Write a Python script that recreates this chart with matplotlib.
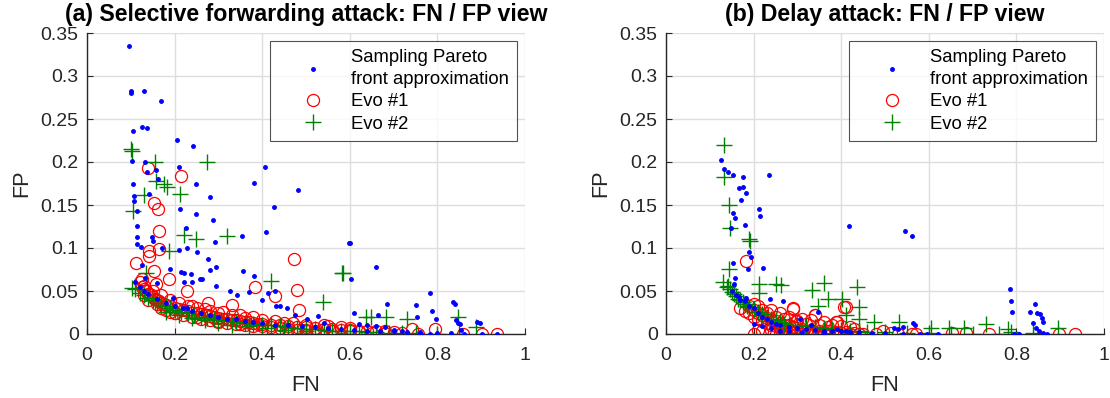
import matplotlib
matplotlib.use("Agg")
import matplotlib.pyplot as plt

plt.rcParams['font.family'] = ['Liberation Sans', 'DejaVu Sans']

# ---------------- (a) Selective forwarding attack ----------------
sf_pareto_fn = [0.097, 0.100, 0.101, 0.130, 0.170, 0.104, 0.125, 0.136, 0.205, 0.242,
                0.103, 0.132, 0.158, 0.210, 0.406, 0.137, 0.162, 0.105, 0.249, 0.381,
                0.482, 0.107, 0.108, 0.141, 0.281, 0.114, 0.212, 0.249, 0.428, 0.288,
                0.115, 0.225, 0.408, 0.114, 0.148, 0.151, 0.353, 0.292, 0.115, 0.123,
                0.171, 0.210, 0.228, 0.250, 0.599, 0.276, 0.126, 0.190, 0.280, 0.295,
                0.356, 0.215, 0.222, 0.238, 0.133, 0.159, 0.221, 0.239, 0.258, 0.263,
                0.295, 0.382, 0.327, 0.342, 0.371, 0.400, 0.413, 0.429, 0.431, 0.441,
                0.457, 0.474, 0.502, 0.527, 0.540, 0.197, 0.228,
                0.600, 0.659, 0.603, 0.782, 0.835, 0.840, 0.686, 0.750, 0.787, 0.610,
                0.664, 0.753, 0.797, 0.842, 0.846, 0.852, 0.891, 0.898, 0.854, 0.902,
                0.935, 0.783,
                0.110, 0.120, 0.130, 0.140, 0.160, 0.180, 0.200, 0.220, 0.240, 0.260,
                0.280, 0.300, 0.320, 0.340, 0.360, 0.380, 0.400, 0.430, 0.460, 0.490,
                0.520, 0.550, 0.580, 0.610, 0.640, 0.670, 0.700, 0.730, 0.760, 0.800,
                0.830, 0.860, 0.620, 0.640, 0.660, 0.680, 0.700, 0.720, 0.760]
sf_pareto_fp = [0.335, 0.282, 0.280, 0.282, 0.271, 0.236, 0.241, 0.239, 0.226, 0.219,
                0.2015, 0.200, 0.191, 0.1945, 0.194, 0.188, 0.180, 0.175, 0.175, 0.176,
                0.168, 0.161, 0.155, 0.1625, 0.159, 0.1425, 0.1455, 0.140, 0.148, 0.1325,
                0.1255, 0.123, 0.119, 0.113, 0.113, 0.1085, 0.1135, 0.1065, 0.1045, 0.1007,
                0.100, 0.098, 0.100, 0.095, 0.106, 0.087, 0.0805, 0.076, 0.075, 0.0775,
                0.0735, 0.0723, 0.0715, 0.0696, 0.065, 0.059, 0.0607, 0.060, 0.0645, 0.0645,
                0.056, 0.0677, 0.050, 0.0455, 0.049, 0.039, 0.0475, 0.0505, 0.033, 0.033,
                0.0307, 0.022, 0.018, 0.021, 0.013, 0.042, 0.0307,
                0.1058, 0.0774, 0.0634, 0.0478, 0.0373, 0.0346, 0.0346, 0.0334, 0.0268, 0.0241,
                0.0218, 0.0194, 0.0179, 0.0163, 0.0132, 0.0113, 0.014, 0.0125, 0.005, 0.000,
                0.000, 0.000,
                0.060, 0.055, 0.050, 0.046, 0.041, 0.036, 0.032, 0.030, 0.027, 0.024,
                0.022, 0.020, 0.018, 0.017, 0.015, 0.014, 0.013, 0.011, 0.010, 0.009,
                0.008, 0.007, 0.006, 0.005, 0.004, 0.003, 0.003, 0.002, 0.002, 0.001,
                0.001, 0.000, 0.012, 0.010, 0.009, 0.008, 0.005, 0.003, 0.000]

sf_evo1_fn = [0.139, 0.214, 0.154, 0.161, 0.164, 0.142, 0.142, 0.1645, 0.111, 0.154,
              0.188, 0.158, 0.125, 0.130, 0.228, 0.4726, 0.3836, 0.480, 0.430, 0.4847,
              0.331, 0.277, 0.741, 0.7945, 0.859, 0.901, 0.935, 0.756,
              0.120, 0.125, 0.130, 0.135, 0.140, 0.145, 0.150, 0.155, 0.160, 0.165,
              0.170, 0.175, 0.180, 0.190, 0.200, 0.210, 0.220, 0.230, 0.240, 0.250,
              0.260, 0.270, 0.280, 0.290, 0.300, 0.310, 0.320, 0.330, 0.340, 0.350,
              0.360, 0.370, 0.380, 0.390, 0.400, 0.420, 0.440, 0.460, 0.480, 0.500,
              0.520, 0.540, 0.560, 0.580, 0.600, 0.620, 0.640, 0.660, 0.680, 0.700,
              0.150, 0.170, 0.190, 0.210, 0.230, 0.250, 0.280, 0.300, 0.330, 0.360,
              0.400, 0.450, 0.500, 0.550, 0.600,
              0.200, 0.250, 0.300, 0.350, 0.400, 0.500, 0.600, 0.650, 0.540, 0.580,
              0.130, 0.140, 0.160, 0.170, 0.180, 0.190, 0.200, 0.220, 0.240, 0.260,
              0.280, 0.300, 0.320, 0.340, 0.360, 0.380, 0.420, 0.440, 0.460, 0.480,
              0.500, 0.520, 0.560, 0.620, 0.680, 0.720, 0.240, 0.270, 0.310, 0.350,
              0.380, 0.430, 0.470]
sf_evo1_fp = [0.193, 0.1835, 0.1525, 0.1455, 0.120, 0.097, 0.0907, 0.0985, 0.082, 0.0735,
              0.0645, 0.058, 0.0638, 0.056, 0.050, 0.0875, 0.0548, 0.0517, 0.044, 0.028,
              0.034, 0.0365, 0.006, 0.006, 0.000, 0.000, 0.000, 0.000,
              0.060, 0.055, 0.052, 0.050, 0.047, 0.045, 0.043, 0.041, 0.040, 0.038,
              0.036, 0.035, 0.034, 0.032, 0.030, 0.029, 0.028, 0.027, 0.025, 0.024,
              0.023, 0.022, 0.021, 0.020, 0.019, 0.018, 0.017, 0.016, 0.016, 0.015,
              0.014, 0.014, 0.013, 0.012, 0.012, 0.011, 0.010, 0.009, 0.008, 0.008,
              0.007, 0.006, 0.006, 0.005, 0.005, 0.004, 0.004, 0.003, 0.003, 0.002,
              0.050, 0.045, 0.040, 0.036, 0.033, 0.030, 0.027, 0.025, 0.022, 0.019,
              0.016, 0.013, 0.011, 0.009, 0.007,
              0.025, 0.020, 0.015, 0.012, 0.009, 0.005, 0.003, 0.001, 0.010, 0.008,
              0.045, 0.040, 0.035, 0.030, 0.028, 0.026, 0.024, 0.022, 0.020, 0.018,
              0.016, 0.014, 0.013, 0.012, 0.010, 0.009, 0.008, 0.007, 0.006, 0.005,
              0.004, 0.004, 0.003, 0.002, 0.001, 0.001, 0.032, 0.029, 0.026, 0.022,
              0.020, 0.015, 0.013]

sf_evo2_fn = [0.100, 0.102, 0.155, 0.273, 0.158, 0.176, 0.182, 0.212, 0.131, 0.1057,
              0.2215, 0.249, 0.319, 0.188, 0.1347, 0.102, 0.4194, 0.583, 0.5395,
              0.585, 0.637, 0.648, 0.682, 0.731, 0.847, 0.888,
              0.110, 0.120, 0.130, 0.140, 0.150, 0.160, 0.170, 0.180, 0.190, 0.200,
              0.215, 0.230, 0.245, 0.260, 0.275, 0.290, 0.305, 0.320, 0.340, 0.360,
              0.380, 0.400, 0.420, 0.440, 0.460, 0.480, 0.500, 0.520, 0.540, 0.560,
              0.580, 0.600, 0.620, 0.640, 0.660, 0.690, 0.720, 0.750, 0.800, 0.850,
              0.180, 0.210, 0.240, 0.270, 0.300, 0.330, 0.370, 0.410, 0.450, 0.500]
sf_evo2_fp = [0.215, 0.213, 0.200, 0.200, 0.1778, 0.174, 0.1715, 0.163, 0.162, 0.1435,
              0.115, 0.1105, 0.1144, 0.097, 0.0715, 0.0533, 0.0618, 0.0712, 0.0373,
              0.0708, 0.0194, 0.0194, 0.0194, 0.0171, 0.0194, 0.008,
              0.052, 0.048, 0.045, 0.042, 0.039, 0.036, 0.034, 0.032, 0.030, 0.028,
              0.026, 0.024, 0.022, 0.020, 0.019, 0.018, 0.016, 0.015, 0.014, 0.013,
              0.012, 0.011, 0.010, 0.009, 0.008, 0.007, 0.006, 0.006, 0.005, 0.004,
              0.004, 0.003, 0.003, 0.002, 0.002, 0.001, 0.001, 0.001, 0.000, 0.000,
              0.026, 0.022, 0.019, 0.016, 0.013, 0.011, 0.009, 0.007, 0.005, 0.004]

# ---------------- (b) Delay attack ----------------
dl_pareto_fn = [0.1263, 0.1324, 0.1415, 0.152, 0.175, 0.2343, 0.167, 0.1765, 0.1818, 0.172,
                0.2123, 0.2153, 0.1537, 0.1567, 0.1476, 0.1804, 0.190, 0.194, 0.152, 0.1864,
                0.2206, 0.158, 0.1545, 0.166, 0.1826, 0.2375,
                0.417, 0.545, 0.561, 0.786, 0.7877, 0.790, 0.8416, 0.832, 0.846, 0.8545,
                0.8584, 0.860, 0.839, 0.845, 0.8507, 0.860, 0.869, 0.268, 0.346, 0.307,
                0.563, 0.5685, 0.520, 0.530, 0.540, 0.795, 0.807, 0.597,
                0.150, 0.160, 0.170, 0.180, 0.190, 0.200, 0.210, 0.220, 0.230, 0.240,
                0.250, 0.260, 0.280, 0.300, 0.320, 0.340, 0.360, 0.380, 0.400, 0.420,
                0.440, 0.470, 0.500, 0.540, 0.580, 0.620,
                0.200, 0.220, 0.240, 0.260, 0.280, 0.310, 0.330, 0.360, 0.390, 0.410]
dl_pareto_fp = [0.2024, 0.192, 0.188, 0.1845, 0.1826, 0.1853, 0.1694, 0.1713, 0.1643, 0.1558,
                0.1457, 0.1375, 0.141, 0.1348, 0.1227, 0.1262, 0.0959, 0.089, 0.0831, 0.0758,
                0.0773, 0.0653, 0.0583, 0.0435, 0.0423, 0.0404,
                0.1255, 0.120, 0.1142, 0.052, 0.0385, 0.0256, 0.0346, 0.0256, 0.024, 0.023,
                0.0186, 0.0143, 0.0132, 0.0066, 0.004, 0.0008, 0.000, 0.0388, 0.0256, 0.0178,
                0.0132, 0.0108, 0.007, 0.006, 0.008, 0.000, 0.000, 0.000,
                0.050, 0.045, 0.040, 0.038, 0.033, 0.030, 0.025, 0.020, 0.017, 0.014,
                0.012, 0.010, 0.008, 0.007, 0.006, 0.005, 0.004, 0.003, 0.003, 0.002,
                0.002, 0.001, 0.001, 0.000, 0.000, 0.000,
                0.012, 0.009, 0.007, 0.004, 0.003, 0.002, 0.010, 0.001, 0.006, 0.004]

dl_evo1_fn = [0.1826, 0.2906, 0.407, 0.341, 0.388, 0.296, 0.4945, 0.5137, 0.5616, 0.654,
              0.685, 0.738, 0.898, 0.9345, 0.480, 0.530, 0.570,
              0.170, 0.180, 0.190, 0.200, 0.210, 0.220, 0.200, 0.210, 0.220, 0.230,
              0.240, 0.250, 0.260, 0.270, 0.280, 0.290, 0.300, 0.320, 0.340, 0.360,
              0.380, 0.400, 0.420, 0.440, 0.230, 0.250, 0.270, 0.290, 0.300, 0.320,
              0.340, 0.350, 0.370, 0.390, 0.410, 0.430, 0.200, 0.220, 0.240, 0.210,
              0.260, 0.280, 0.310, 0.330, 0.360, 0.390, 0.420,
              0.190, 0.200, 0.210, 0.220, 0.230, 0.240, 0.250, 0.260, 0.270, 0.280,
              0.290, 0.300, 0.310, 0.330, 0.350, 0.370, 0.390, 0.410, 0.430, 0.450,
              0.240, 0.260, 0.280, 0.310, 0.330, 0.360, 0.380, 0.400, 0.420, 0.250,
              0.270, 0.290, 0.310, 0.340, 0.360]
dl_evo1_fp = [0.0847, 0.029, 0.031, 0.0218, 0.014, 0.0148, 0.004, 0.001, 0.000, 0.0015,
              0.001, 0.000, 0.000, 0.000, 0.000, 0.000, 0.000,
              0.030, 0.027, 0.025, 0.035, 0.032, 0.028, 0.020, 0.018, 0.015, 0.013,
              0.011, 0.009, 0.008, 0.006, 0.005, 0.004, 0.003, 0.003, 0.002, 0.002,
              0.001, 0.001, 0.000, 0.000, 0.025, 0.020, 0.018, 0.030, 0.015, 0.012,
              0.022, 0.010, 0.008, 0.014, 0.031, 0.006, 0.000, 0.003, 0.005, 0.005,
              0.000, 0.000, 0.000, 0.000, 0.000, 0.000, 0.000,
              0.032, 0.028, 0.024, 0.022, 0.019, 0.016, 0.015, 0.013, 0.011, 0.010,
              0.008, 0.007, 0.006, 0.005, 0.004, 0.003, 0.002, 0.002, 0.001, 0.000,
              0.028, 0.024, 0.020, 0.018, 0.016, 0.014, 0.011, 0.009, 0.008, 0.000,
              0.000, 0.001, 0.000, 0.000, 0.000]

dl_evo2_fn = [0.1324, 0.1324, 0.143, 0.146, 0.190, 0.1925, 0.143, 0.142, 0.213, 0.213,
              0.251, 0.2625, 0.333, 0.361, 0.435, 0.369, 0.402, 0.440, 0.346, 0.411,
              0.441, 0.4756, 0.5327, 0.605, 0.647, 0.681, 0.7306, 0.780, 0.7877, 0.837,
              0.896,
              0.130, 0.140, 0.145, 0.150, 0.155, 0.160, 0.165, 0.170, 0.175, 0.180,
              0.185, 0.190, 0.200, 0.210, 0.220, 0.230, 0.240, 0.250, 0.260, 0.270,
              0.280, 0.300, 0.320, 0.340, 0.360, 0.380, 0.400, 0.420, 0.440, 0.460,
              0.500, 0.550, 0.600, 0.650, 0.700, 0.760]
dl_evo2_fp = [0.2199, 0.182, 0.1495, 0.1227, 0.110, 0.1076, 0.0754, 0.056, 0.058, 0.048,
              0.058, 0.057, 0.0513, 0.0598, 0.0551, 0.0404, 0.0411, 0.0318, 0.0326, 0.0221,
              0.0171, 0.0143, 0.0143, 0.0066, 0.0066, 0.0066, 0.0117, 0.0055, 0.002, 0.0015,
              0.0066,
              0.060, 0.055, 0.052, 0.049, 0.046, 0.044, 0.041, 0.039, 0.037, 0.035,
              0.033, 0.031, 0.029, 0.026, 0.023, 0.020, 0.018, 0.016, 0.014, 0.012,
              0.011, 0.010, 0.009, 0.008, 0.007, 0.006, 0.005, 0.004, 0.003, 0.002,
              0.002, 0.001, 0.001, 0.000, 0.000, 0.000]

titles = ['(a) Selective forwarding attack: FN / FP view',
          '(b) Delay attack: FN / FP view']
legend_labels = ['Sampling Pareto\nfront approximation', 'Evo #1', 'Evo #2']
x_ticks = [0, 0.2, 0.4, 0.6, 0.8, 1]
x_tick_labels = ['0', '0.2', '0.4', '0.6', '0.8', '1']
y_ticks = [0, 0.05, 0.1, 0.15, 0.2, 0.25, 0.3, 0.35]
y_tick_labels = ['0', '0.05', '0.1', '0.15', '0.2', '0.25', '0.3', '0.35']

datasets = [
    (sf_pareto_fn, sf_pareto_fp, sf_evo1_fn, sf_evo1_fp, sf_evo2_fn, sf_evo2_fp),
    (dl_pareto_fn, dl_pareto_fp, dl_evo1_fn, dl_evo1_fp, dl_evo2_fn, dl_evo2_fp),
]

W, H = 1110, 398
fig = plt.figure(figsize=(W / 100, H / 100), dpi=100)
axes_px = [(87, 33, 438, 301), (666, 33, 438, 301)]
dark = (0.15, 0.15, 0.15)

for (x0, y0, w, h), data, title in zip(axes_px, datasets, titles):
    ax = fig.add_axes([x0 / W, 1 - (y0 + h) / H, w / W, h / H])
    pfn, pfp, e1fn, e1fp, e2fn, e2fp = data
    ax.plot(pfn, pfp, linestyle='none', marker='.', color=(0, 0, 1),
            markersize=5, label=legend_labels[0], zorder=3)
    ax.plot(e1fn, e1fp, linestyle='none', marker='o', markerfacecolor='none',
            markeredgecolor=(1, 0, 0), markersize=8.7, markeredgewidth=0.9,
            label=legend_labels[1], zorder=2)
    ax.plot(e2fn, e2fp, linestyle='none', marker='+', color=(0, 0.5, 0),
            markersize=11, markeredgewidth=1.0, label=legend_labels[2], zorder=2.5)
    ax.set_xlim(0, 1)
    ax.set_ylim(0, 0.35)
    ax.set_xticks(x_ticks)
    ax.set_xticklabels(x_tick_labels)
    ax.set_yticks(y_ticks)
    ax.set_yticklabels(y_tick_labels)
    ax.grid(True, color=(0.87, 0.87, 0.87), linewidth=1.0)
    ax.set_axisbelow(True)
    for s in ['top', 'right']:
        ax.spines[s].set_visible(False)
    for s in ['left', 'bottom']:
        ax.spines[s].set_color(dark)
        ax.spines[s].set_linewidth(1.0)
    ax.tick_params(direction='in', length=4, width=0.8, labelsize=14,
                   colors=dark)
    ax.tick_params(axis='x', pad=9)
    ax.tick_params(axis='y', pad=6)
    ax.set_xlabel('FN', fontsize=15.6, color=dark, labelpad=8)
    ax.set_ylabel('FP', fontsize=15.6, color=dark, labelpad=6)
    ax.set_title(title, fontsize=16.7, fontweight='bold', pad=9)
    leg = ax.legend(loc='upper right', bbox_to_anchor=(1, 1), fontsize=13.3,
                    frameon=True, fancybox=False, edgecolor=dark,
                    borderpad=0.45, handletextpad=0.16, labelspacing=0.3,
                    handlelength=3.78, borderaxespad=0.43)
    leg.get_frame().set_linewidth(0.8)
    leg.legend_handles[0].set_markersize(5)
    for t in leg.get_texts():
        t.set_linespacing(1.35)

fig.savefig('out.png', dpi=100)
